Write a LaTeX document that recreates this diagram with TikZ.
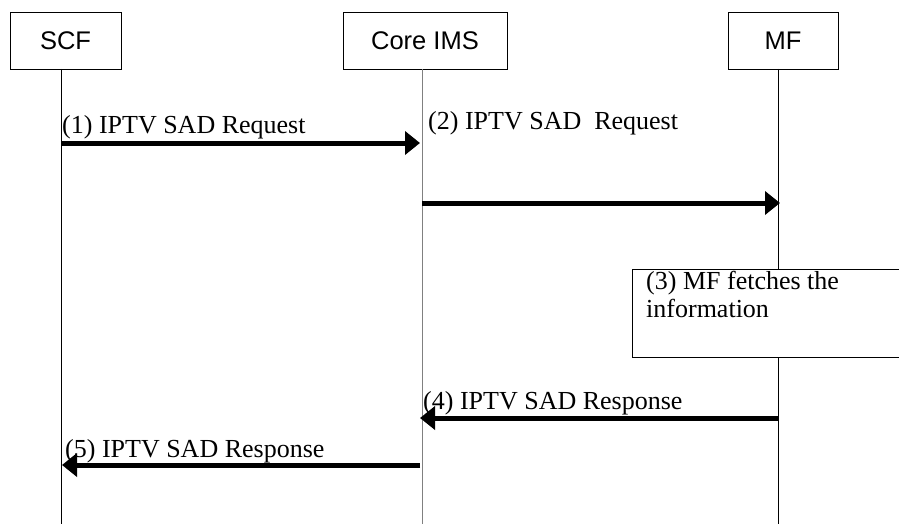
\documentclass[tikz,border=0pt]{standalone}
\usepackage{fontspec}
\setmainfont{Liberation Serif}
\newfontfamily\hdrfont{Liberation Sans}
\usetikzlibrary{arrows.meta}
\begin{document}
\begin{tikzpicture}[x=1pt,y=-1pt,
  hdr/.style={draw=black,line width=0.8pt,minimum width=#1,minimum height=57pt,inner sep=0pt,font=\hdrfont\fontsize{25.5}{28}\selectfont},
  life/.style={draw=black,line width=0.8pt},
  msg/.style={draw=black,line width=5pt,-{Triangle[length=15pt,width=23pt]}},
  lbl/.style={font=\fontsize{26}{28}\selectfont,inner sep=0pt,anchor=base west}]
\useasboundingbox (0,0) rectangle (899,524);
\node[hdr=111pt] (scf) at (65.5,40.5) {SCF};
\node[hdr=164pt] (ims) at (425,40.5) {Core IMS};
\node[hdr=110pt] (mf) at (783,40.5) {MF};
\coordinate (scft) at (61,69);
\coordinate (imst) at (422,69);
\coordinate (mft) at (778,69);
\coordinate (scfb) at (61,524);
\coordinate (imsb) at (422,524);
\coordinate (mfb) at (778,524);
\draw[life] (scft) -- (scfb);
\draw[life,draw=gray] (imst) -- (imsb);
\draw[life] (mft) -- (mfb);
\node[draw=black,fill=white,line width=0.8pt,minimum width=268pt,minimum height=88pt,inner sep=0pt] (fetch) at (766,313) {};
\node[font=\fontsize{26}{28}\selectfont,inner sep=0pt,align=left,anchor=base west] (fetchtxt) at (646,317) {(3) MF fetches the\\information};
\coordinate (a1s) at (61,143);
\coordinate (a1e) at (420,143);
\coordinate (a2s) at (422,203);
\coordinate (a2e) at (780,203);
\coordinate (a4s) at (778,418);
\coordinate (a4e) at (420,418);
\coordinate (a5s) at (420,465);
\coordinate (a5e) at (62,465);
\draw[msg] (a1s) -- (a1e);
\draw[msg] (a2s) -- (a2e);
\draw[msg] (a4s) -- (a4e);
\draw[msg] (a5s) -- (a5e);
\node[lbl] (l1) at (62,133) {(1) IPTV SAD Request};
\node[lbl] (l2) at (428,129) {(2) IPTV SAD\ \ Request};
\node[lbl] (l4) at (423,409) {(4) IPTV SAD Response};
\node[lbl] (l5) at (65,457) {(5) IPTV SAD Response};
\end{tikzpicture}
\end{document}
